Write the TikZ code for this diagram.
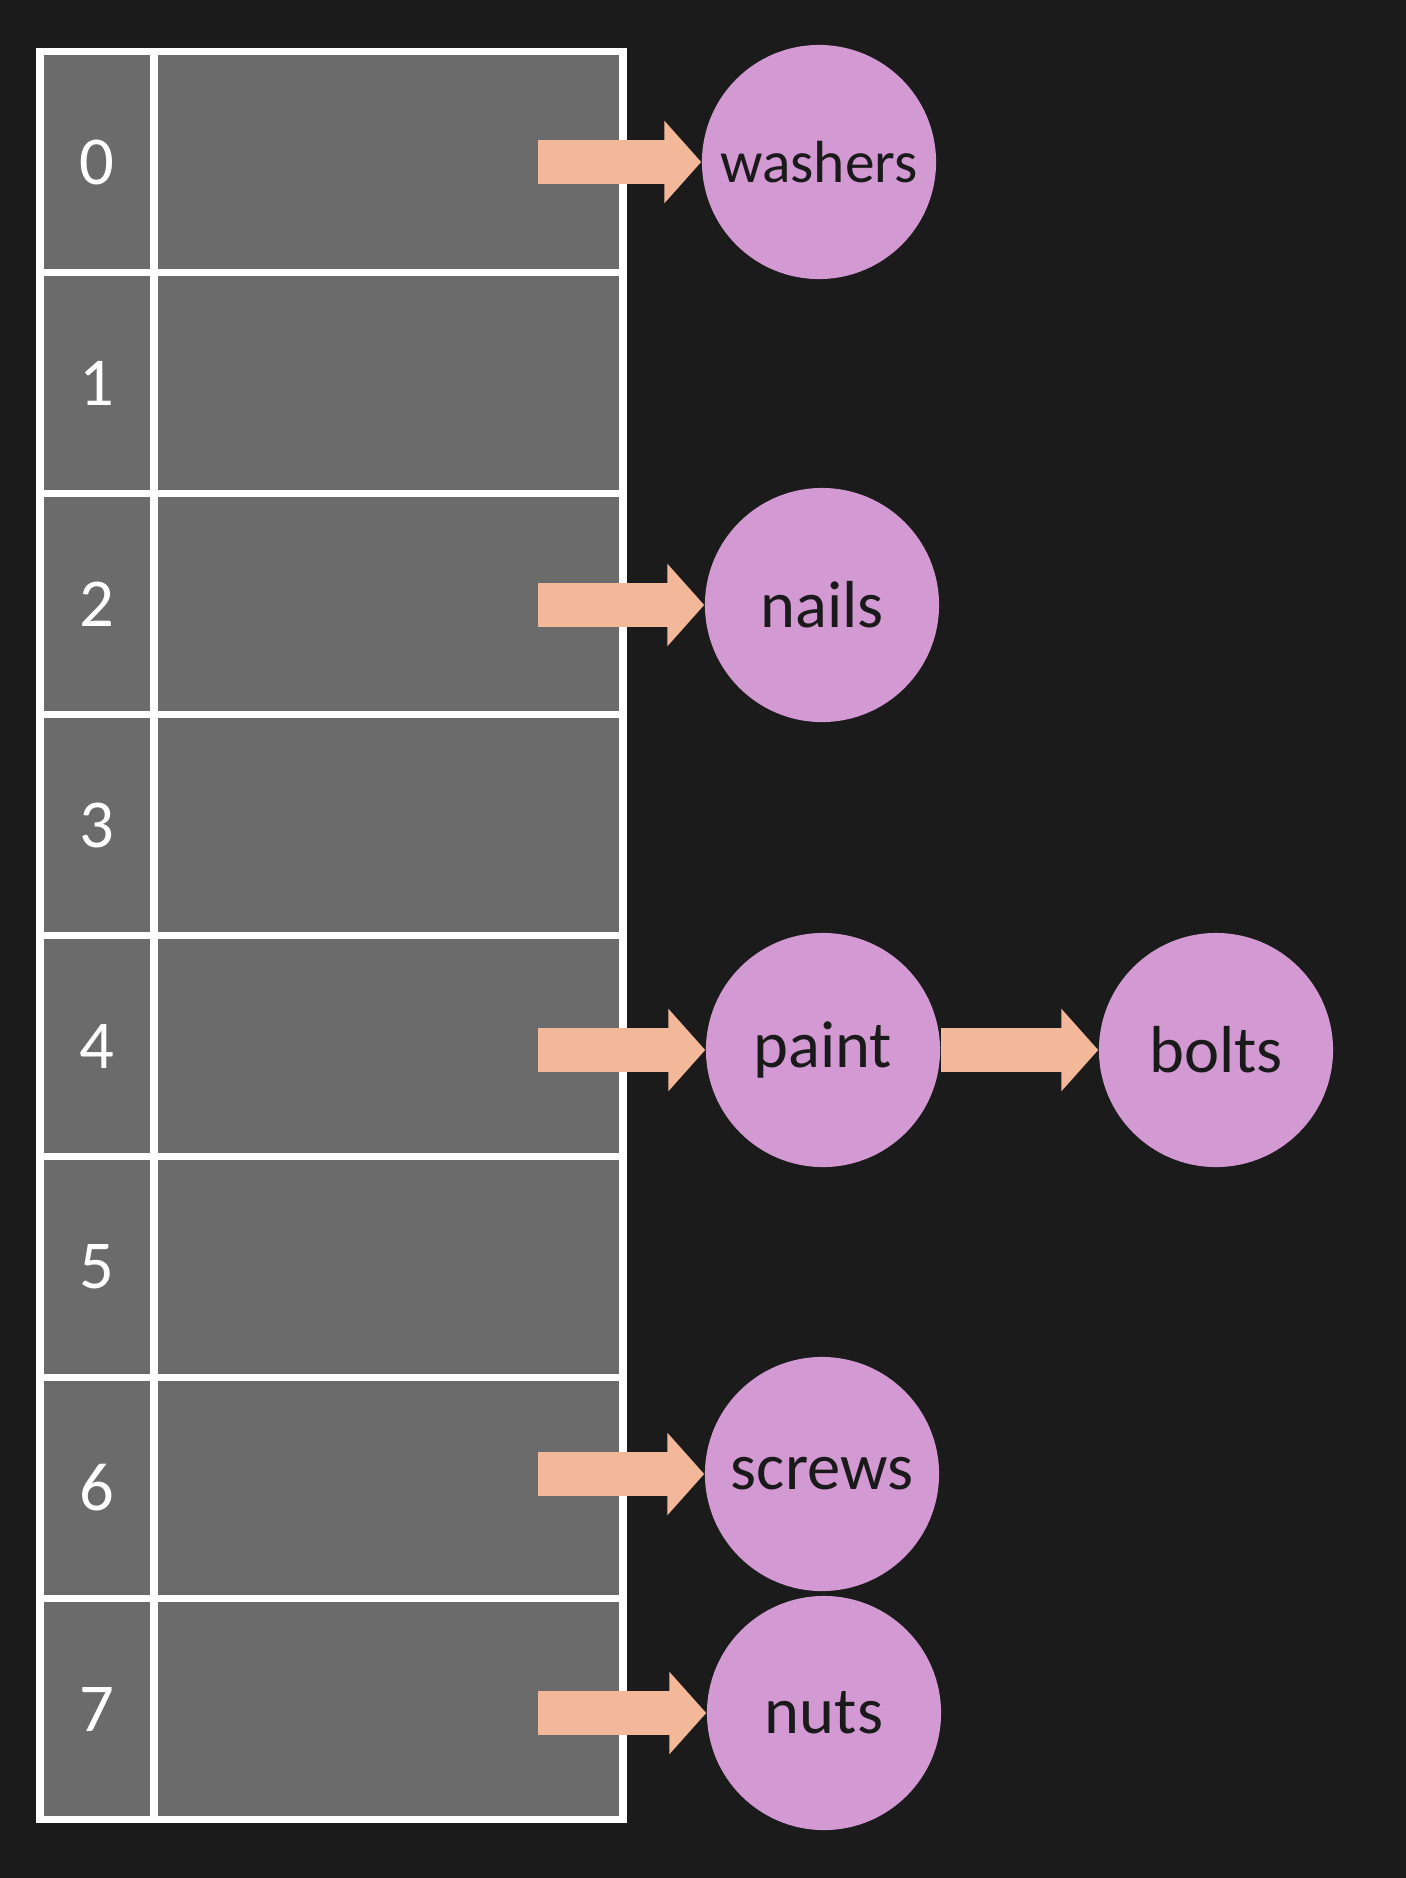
\documentclass[tikz,border=0pt]{standalone}
\usepackage{fontspec}
\setmainfont{Carlito}
\usepackage{xcolor}
\usetikzlibrary{arrows.meta, positioning}

\definecolor{bg}{HTML}{1B1B1B}
\definecolor{slotgray}{HTML}{6B6B6B}
\definecolor{itemfill}{HTML}{D399D3}
\definecolor{linkfill}{HTML}{F3B89A}
\definecolor{ink}{HTML}{1A1A1A}

\begin{document}
\begin{tikzpicture}[
  x=0.01cm, y=-0.01cm,
  idxbox/.style={draw=white, fill=slotgray, line width=2.2pt, inner sep=0pt,
    minimum width=1.145cm, minimum height=2.21cm, text=white,
    font=\fontsize{19.5}{22}\selectfont},
  slotbox/.style={draw=white, fill=slotgray, line width=2.2pt, inner sep=0pt,
    minimum width=4.685cm, minimum height=2.21cm},
  item/.style={circle, fill=itemfill, minimum size=2.34cm, inner sep=0pt,
    text=ink, font=\fontsize{18.9}{22}\selectfont},
  arr/.style={draw=linkfill, line width=12.3pt, -{Triangle[length=10.5pt, width=22.9pt]}}
]
\fill[bg] (0,0) rectangle (1406,1878);

% table of buckets
\foreach \i in {0,...,7} {
  \node[idxbox] (idx\i) at (97.25,{162+221*\i}) {\i};
  \node[slotbox] (slot\i) at (388.75,{162+221*\i}) {};
}

% stored items
\node[item, font=\fontsize{16.9}{20}\selectfont] (washers) at (819,162) {washers};
\node[item] (nails) at (822,605) {nails};
\node[item] (paint) at (823,1050) {paint};
\node[item] (bolts) at (1216,1050) {bolts};
\node[item] (screws) at (822,1474) {screws};
\node[item] (nuts) at (824,1713) {nuts};

% pointers
\coordinate (p0) at (538,162);
\coordinate (p2) at (538,605);
\coordinate (p4) at (538,1050);
\coordinate (p6) at (538,1474);
\coordinate (p7) at (538,1713);
\draw[arr] (p0) -- (washers.west);
\draw[arr] (p2) -- (nails.west);
\draw[arr] (p4) -- (paint.west);
\draw[arr] (paint.east) -- (bolts.west);
\draw[arr] (p6) -- (screws.west);
\draw[arr] (p7) -- (nuts.west);
\end{tikzpicture}
\end{document}
